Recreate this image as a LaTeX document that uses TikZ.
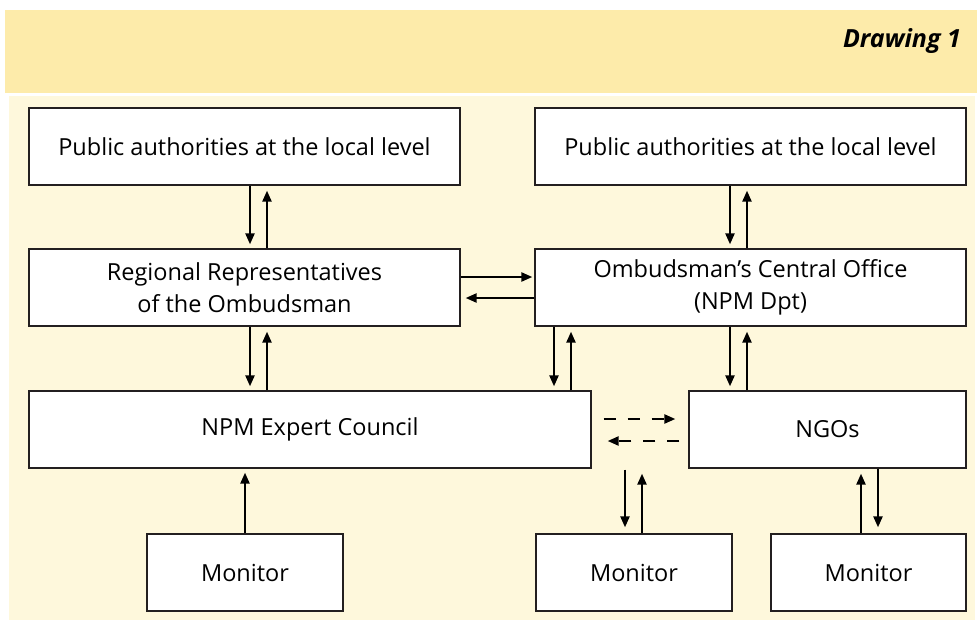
\documentclass[tikz,border=0pt]{standalone}
\usepackage{fontspec}
\setmainfont{Open Sans}
\usetikzlibrary{arrows.meta}
\definecolor{headband}{RGB}{253,235,170}
\definecolor{panel}{RGB}{254,248,220}
\definecolor{boxline}{RGB}{35,31,32}
\tikzset{
  orgbox/.style={draw=boxline, line width=1.3pt, fill=white, inner sep=0pt,
    minimum height=77pt, align=center,
    font=\fontsize{23.5}{32}\selectfont},
  arr/.style={line width=2.3pt, -{Triangle[length=11pt,width=9pt]}},
  dasharr/.style={arr, dash pattern=on 12pt off 12pt},
}
\begin{document}
\begin{tikzpicture}[x=1pt,y=-1pt]
\useasboundingbox (0,0) rectangle (977,621);
% background bands
\fill[white] (0,0) rectangle (977,621);
\fill[headband] (5,10) rectangle (977,93);
\fill[panel] (9,96) rectangle (975,620);
\node[anchor=base east, inner sep=0pt, font=\fontsize{25}{30}\selectfont\bfseries\itshape] (title) at (961,47) {Drawing 1};

% boxes
\node[orgbox, minimum width=431pt] (pl) at (244.5,146.5) {Public authorities at the local level};
\node[orgbox, minimum width=431pt] (pr) at (750.5,146.5) {Public authorities at the local level};
\node[orgbox, minimum width=431pt] (rr) at (244.5,287.5) {Regional Representatives\\of the Ombudsman};
\node[orgbox, minimum width=431pt] (co) at (750.5,287.5) {Ombudsman’s Central Office\\(NPM Dpt)};
\node[orgbox, minimum width=562pt] (npm) at (310,429.5) {NPM Expert Council};
\node[orgbox, minimum width=277pt] (ngo) at (827.5,429.5) {NGOs};
\node[orgbox, minimum width=196pt] (m1) at (245,572.5) {Monitor};
\node[orgbox, minimum width=196pt] (m2) at (634,572.5) {Monitor};
\node[orgbox, minimum width=195pt] (m3) at (868.5,572.5) {Monitor};

% connector lanes
\coordinate (lA) at (250,0);
\coordinate (lB) at (267,0);
\coordinate (lC) at (554,0);
\coordinate (lD) at (571,0);
\coordinate (lE) at (730,0);
\coordinate (lF) at (747,0);
\coordinate (lG) at (625,0);
\coordinate (lH) at (642,0);
\coordinate (lI) at (861,0);
\coordinate (lJ) at (878,0);
\coordinate (lK) at (245,0);
\coordinate (hA) at (0,277);
\coordinate (hB) at (0,298);
\coordinate (hC) at (0,419);
\coordinate (hD) at (0,441);

% left column
\draw[arr, shorten >=4pt] (pl.south -| lA) -- (rr.north -| lA);
\draw[arr, shorten >=5pt] (rr.north -| lB) -- (pl.south -| lB);
\draw[arr, shorten >=4pt] (rr.south -| lA) -- (npm.north -| lA);
\draw[arr, shorten >=5pt] (npm.north -| lB) -- (rr.south -| lB);
\draw[arr, shorten >=4pt] (m1.north -| lK) -- (npm.south -| lK);

% right column
\draw[arr, shorten >=4pt] (pr.south -| lE) -- (co.north -| lE);
\draw[arr, shorten >=5pt] (co.north -| lF) -- (pr.south -| lF);
\draw[arr, shorten >=4pt] (co.south -| lE) -- (ngo.north -| lE);
\draw[arr, shorten >=5pt] (ngo.north -| lF) -- (co.south -| lF);
\draw[arr, shorten >=4pt] (co.south -| lC) -- (npm.north -| lC);
\draw[arr, shorten >=5pt] (npm.north -| lD) -- (co.south -| lD);

% between the columns
\draw[arr, shorten >=2pt] (rr.east |- hA) -- (co.west |- hA);
\draw[arr, shorten >=5pt] (co.west |- hB) -- (rr.east |- hB);
\draw[dasharr, shorten <=12pt, shorten >=13pt] (npm.east |- hC) -- (ngo.west |- hC);
\draw[dasharr, shorten <=9pt, shorten >=16pt] (ngo.west |- hD) -- (npm.east |- hD);

% monitors
\draw[arr, shorten <=1pt, shorten >=6pt] (npm.south -| lG) -- (m2.north -| lG);
\draw[arr, shorten >=5pt] (m2.north -| lH) -- (npm.south -| lH);
\draw[arr, shorten >=5pt] (m3.north -| lI) -- (ngo.south -| lI);
\draw[arr, shorten >=6pt] (ngo.south -| lJ) -- (m3.north -| lJ);
\end{tikzpicture}
\end{document}
